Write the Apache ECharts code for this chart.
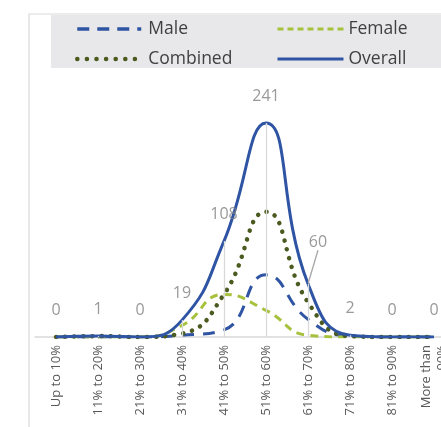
<!DOCTYPE html>
<html>
<head>
<meta charset="utf-8">
<script src="https://cdn.jsdelivr.net/npm/echarts@6/dist/echarts.min.js"></script>
<style>
html,body{margin:0;padding:0;background:#fff;}
#c{width:441px;height:427px;}
</style>
</head>
<body>
<div id="c"></div>
<script>
const categories = ['Up to 10%','11% to 20%','21% to 30%','31% to 40%','41% to 50%','51% to 60%','61% to 70%','71% to 80%','81% to 90%','More than\n90%'];
const male     = [0, 0, 0, 2, 8, 70, 20, 1, 0, 0];
const female   = [0, 0, 0, 13, 48, 30, 2, 0, 0, 0];
const combined = [0, 1, 0, 4, 48, 141, 39, 1, 0, 0];
const overall  = [0, 1, 0, 19, 108, 241, 60, 2, 0, 0];

const BLUE = '#2e54a3', GREEN = '#a6c13c', OLIVE = '#4b5a1e';
const chart = echarts.init(document.getElementById('c'));
const font = '"Open Sans", "Noto Sans", sans-serif';

const xData = categories.map((c, i) => i === categories.length - 1
  ? { value: c, textStyle: { padding: [18, 0, 0, 0] } } : c);

chart.setOption({
  animation: false,
  textStyle: { fontFamily: font },
  graphic: [
    { type: 'line', shape: { x1: 29, y1: 14, x2: 29, y2: 427 }, style: { stroke: '#d9d9d9', lineWidth: 1.2 }, z: -1 },
    { type: 'line', shape: { x1: 29, y1: 14, x2: 441, y2: 14 }, style: { stroke: '#d9d9d9', lineWidth: 1.2 }, z: -1 },
    { type: 'rect', shape: { x: 51, y: 15, width: 390, height: 53 }, style: { fill: '#e8e8ea' }, z: -1 }
  ],
  legend: [
    { orient: 'vertical', left: 75, top: 20, padding: 0, itemWidth: 64, itemHeight: 14, itemGap: 12,
      itemStyle: { opacity: 0 },
      textStyle: { color: '#404040', fontSize: 17.5, fontFamily: font, padding: [0,0,0,2] },
      data: [
        { name: 'Male', lineStyle: { type: [12, 8], width: 3.5 } },
        { name: 'Combined', lineStyle: { type: [0.1, 9.5], width: 4.5, cap: 'round' } }
      ] },
    { orient: 'vertical', left: 276, top: 20, padding: 0, itemWidth: 66, itemHeight: 14, itemGap: 12,
      itemStyle: { opacity: 0 },
      textStyle: { color: '#404040', fontSize: 17.5, fontFamily: font },
      data: [
        { name: 'Female', lineStyle: { type: [6, 4], width: 3 } },
        { name: 'Overall', lineStyle: { width: 3 } }
      ] }
  ],
  grid: { left: 35, top: 70.6, width: 420, height: 266.4, containLabel: false, outerBoundsMode: 'none' },
  xAxis: {
    type: 'category', data: xData, boundaryGap: true,
    axisLine: { lineStyle: { color: '#d9d9d9', width: 1.5 } },
    axisTick: { show: false },
    axisLabel: { rotate: 90, margin: 8, color: '#595959', fontSize: 13, fontFamily: font, interval: 0, lineHeight: 16 }
  },
  yAxis: { type: 'value', min: 0, max: 300, show: false, splitLine: { show: false } },
  series: [
    { name: 'Male', type: 'line', data: male, smooth: 0.5, symbol: 'none',
      lineStyle: { color: BLUE, width: 3, type: [12, 9] }, itemStyle: { color: BLUE },
      markLine: { silent: true, symbol: 'none', label: { show: false },
        lineStyle: { color: '#d9d9d9', width: 1.3, type: 'solid' },
        data: overall.map((v, i) => [{ coord: [i, 0] }, { coord: [i, v] }]) } },
    { name: 'Female', type: 'line', data: female, smooth: 0.5, symbol: 'none',
      lineStyle: { color: GREEN, width: 3, type: [8, 6] }, itemStyle: { color: GREEN } },
    { name: 'Combined', type: 'line', data: combined, smooth: 0.5, symbol: 'none',
      lineStyle: { color: OLIVE, width: 4.5, type: [0.1, 9], cap: 'round' }, itemStyle: { color: OLIVE } },
    { name: 'Overall', type: 'line', data: overall, smooth: 0.5, symbol: 'none',
      lineStyle: { color: BLUE, width: 3 }, itemStyle: { color: BLUE } },
    { name: 'labels', type: 'scatter', z: 10, symbolSize: 1, itemStyle: { color: 'rgba(0,0,0,0)' }, silent: true,
      data: overall.map((v, i) => i === 6 ? { value: v, labelLine: { show: true } } : v),
      label: { show: true, position: 'top', distance: 18, color: '#808080', fontSize: 16, fontFamily: font },
      labelLayout: function (p) { return p.dataIndex === 6 ? { dx: 10, dy: -15 } : {}; },
      labelLine: { show: false, lineStyle: { color: '#a6a6a6', width: 1.3 } } }
  ]
});
</script>
</body>
</html>
